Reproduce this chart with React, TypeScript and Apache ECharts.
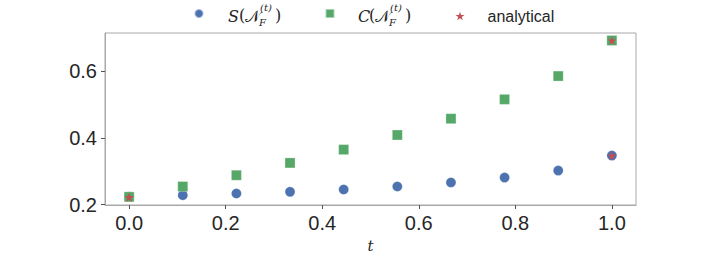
import React, { useEffect, useRef } from "react";
import * as echarts from "echarts";

const tValues = [0, 1 / 9, 2 / 9, 3 / 9, 4 / 9, 5 / 9, 6 / 9, 7 / 9, 8 / 9, 1];
const sValues = [0.223, 0.228, 0.233, 0.238, 0.245, 0.254, 0.266, 0.281, 0.302, 0.347];
const cValues = [0.223, 0.254, 0.288, 0.325, 0.365, 0.409, 0.458, 0.516, 0.586, 0.693];
const analyticalPoints: [number, number][] = [
  [0, 0.222],
  [0, 0.222],
  [1, 0.347],
  [1, 0.693],
];
const xTicks = [0, 0.2, 0.4, 0.6, 0.8, 1.0];
const yTicks = [0.2, 0.4, 0.6];

const BLUE = "#4C72B0";
const GREEN = "#55A868";
const RED = "#C44E52";
const STAR = "path://M50,0 L61.2,34.5 L97.6,34.5 L68.2,55.9 L79.4,90.5 L50,69.1 L20.6,90.5 L31.8,55.9 L2.4,34.5 L38.8,34.5 Z";

const S_NAME = "S(N_F^(t))";
const C_NAME = "C(N_F^(t))";
const A_NAME = "analytical";

function mathLabel(x: number, letter: string) {
  const serif = "'DejaVu Serif', 'Liberation Serif', serif";
  const base = { fill: "#262626", fontFamily: serif };
  return {
    type: "group",
    x,
    y: 0,
    silent: true,
    children: [
      { type: "text", x: 0, y: 8, style: { ...base, text: letter, fontSize: 16, fontStyle: "italic" } },
      { type: "text", x: 11, y: 7, style: { ...base, text: "(", fontSize: 16 } },
      { type: "text", x: 17, y: 8, style: { ...base, text: "𝒩", fontSize: 16 } },
      { type: "text", x: 32, y: 2, style: { ...base, text: "(t)", fontSize: 10, fontStyle: "italic" } },
      { type: "text", x: 31, y: 17, style: { ...base, text: "F", fontSize: 10, fontStyle: "italic" } },
      { type: "text", x: 47, y: 7, style: { ...base, text: ")", fontSize: 16 } },
    ],
  };
}

export default function App() {
  const ref = useRef<HTMLDivElement>(null);
  useEffect(() => {
    if (!ref.current) return;
    const chart = echarts.init(ref.current, undefined, { renderer: "svg" });
    const sans = "'Liberation Sans', Arial, sans-serif";
    const legendBase = {
      top: 8,
      padding: 0,
      itemWidth: 9,
      itemHeight: 9,
      textStyle: { fontSize: 16, fontFamily: sans, color: "#262626" },
      selectedMode: false,
    };
    const axisLineStyle = { show: true, onZero: false, lineStyle: { color: "#a8a8a8", width: 1 } };
    chart.setOption({
      animation: false,
      backgroundColor: "#ffffff",
      grid: {
        left: 105,
        right: 70,
        top: 33,
        bottom: 69,
        show: true,
        borderColor: "#a8a8a8",
        borderWidth: 1,
      },
      legend: [
        { ...legendBase, left: 193.5, data: [S_NAME], formatter: () => "" },
        { ...legendBase, left: 324.5, data: [C_NAME], formatter: () => "" },
        {
          ...legendBase,
          left: 455.5,
          data: [A_NAME],
          textStyle: { ...legendBase.textStyle, padding: [0, 0, 0, 18] },
        },
      ],
      graphic: [mathLabel(228, "S"), mathLabel(358, "C")],
      xAxis: {
        type: "value",
        min: -0.05,
        max: 1.05,
        name: "t",
        nameLocation: "middle",
        nameGap: 33,
        nameTextStyle: {
          fontFamily: "'DejaVu Serif', 'Liberation Serif', serif",
          fontStyle: "italic",
          fontSize: 15,
          color: "#262626",
        },
        axisLine: axisLineStyle,
        splitLine: { show: false },
        axisTick: {
          show: true,
          length: 4,
          lineStyle: { color: "#555" },
          customValues: xTicks,
        },
        axisLabel: {
          fontSize: 20,
          fontFamily: sans,
          color: "#262626",
          margin: 8,
          customValues: xTicks,
          formatter: (v: number) => v.toFixed(1),
        },
      },
      yAxis: {
        type: "value",
        min: 0.1985,
        max: 0.7155,
        axisLine: axisLineStyle,
        splitLine: { show: false },
        axisTick: {
          show: true,
          length: 4,
          lineStyle: { color: "#555" },
          customValues: yTicks,
        },
        axisLabel: {
          fontSize: 20,
          fontFamily: sans,
          color: "#262626",
          margin: 8,
          customValues: yTicks,
          formatter: (v: number) => v.toFixed(1),
        },
      },
      series: [
        {
          name: S_NAME,
          type: "scatter",
          symbol: "circle",
          symbolSize: 10,
          itemStyle: { color: BLUE, borderColor: "rgba(255,255,255,0.5)", borderWidth: 0.5, opacity: 1 },
          data: tValues.map((t, i) => [t, sValues[i]]),
          z: 2,
        },
        {
          name: C_NAME,
          type: "scatter",
          symbol: "rect",
          symbolSize: 10,
          itemStyle: { color: GREEN, borderColor: "rgba(255,255,255,0.5)", borderWidth: 0.5, opacity: 1 },
          data: tValues.map((t, i) => [t, cValues[i]]),
          z: 3,
        },
        {
          name: A_NAME,
          type: "scatter",
          symbol: STAR,
          symbolSize: 9,
          itemStyle: { color: RED, opacity: 1 },
          data: analyticalPoints,
          z: 4,
        },
      ],
    });
    return () => chart.dispose();
  }, []);
  return (
    <div
      ref={ref}
      style={{ position: "fixed", left: 0, top: 0, width: 706, height: 274 }}
    />
  );
}
